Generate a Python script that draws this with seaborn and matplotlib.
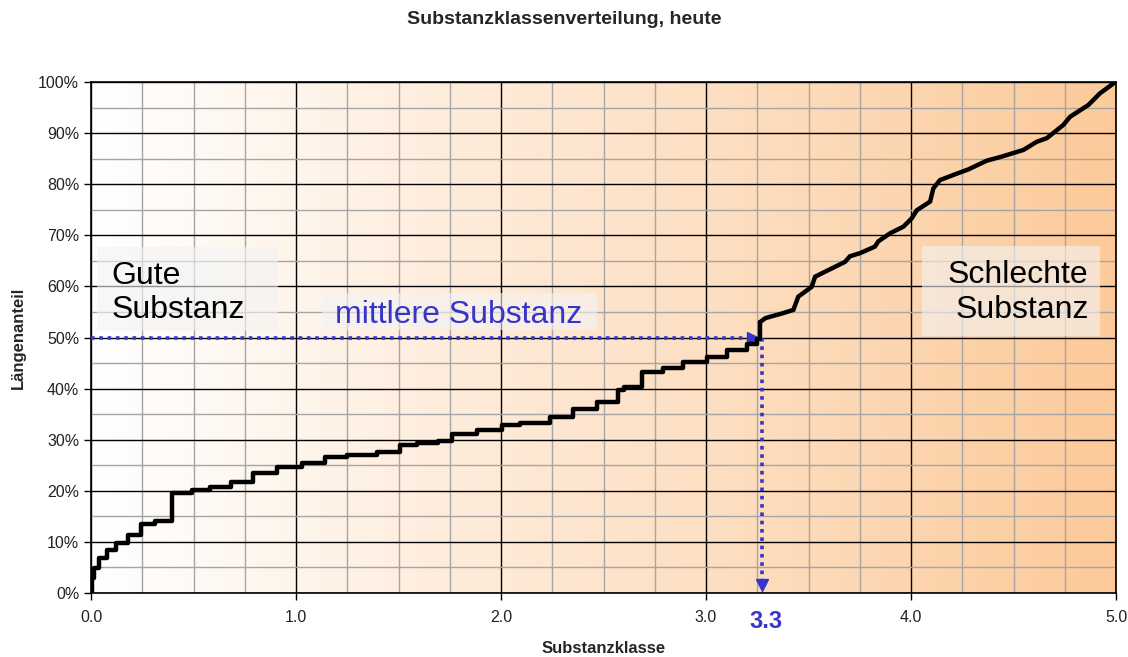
import numpy as np
import matplotlib
matplotlib.use("Agg")
import matplotlib.pyplot as plt
from matplotlib.colors import LinearSegmentedColormap
from matplotlib.patches import Rectangle
from matplotlib.ticker import MultipleLocator, FuncFormatter
import seaborn as sns

# Treppenkurve (untere Haelfte): Substanzklasse und kumulierter Laengenanteil in %
x_stufen = [0.0, 0.005, 0.016, 0.04, 0.077, 0.122, 0.179, 0.242, 0.312, 0.397,
            0.491, 0.58, 0.681, 0.792, 0.906, 1.028, 1.141, 1.247, 1.393, 1.507,
            1.589, 1.694, 1.763, 1.881, 2.003, 2.093, 2.239, 2.353, 2.467, 2.572,
            2.60, 2.686, 2.792, 2.889, 3.003, 3.1, 3.198, 3.247, 3.263]
y_stufen = [0, 3, 4.8, 6.8, 8.5, 9.7, 11.3, 13.6, 14.1, 19.5,
            20.2, 20.8, 21.8, 23.4, 24.7, 25.5, 26.6, 27.0, 27.5, 29.0,
            29.3, 29.7, 31.2, 31.9, 32.9, 33.3, 34.5, 36.1, 37.4, 39.7,
            40.4, 43.3, 44.0, 45.3, 46.1, 47.6, 48.7, 49.8, 53.0]

# obere Haelfte: dichte, feine Stufen -> als Linienzug
x_oben = [3.263, 3.29, 3.37, 3.426, 3.45, 3.515, 3.532, 3.597, 3.678, 3.702,
          3.751, 3.824, 3.84, 3.898, 3.963, 4.003, 4.028, 4.093, 4.109, 4.141,
          4.206, 4.28, 4.369, 4.434, 4.548, 4.613, 4.662, 4.743, 4.776, 4.865,
          4.922, 4.987, 5.0]
y_oben = [53.0, 53.8, 54.7, 55.4, 58.0, 59.9, 61.9, 63.2, 64.8, 65.9,
          66.5, 67.8, 68.8, 70.4, 71.7, 73.3, 74.9, 76.6, 79.2, 80.8,
          81.8, 82.9, 84.6, 85.3, 86.7, 88.3, 89.0, 91.6, 93.2, 95.5,
          97.8, 99.7, 100]

median_anteil = 50
median_klasse = 3.27
median_label = "3.3"

x_ticks = [0.0, 1.0, 2.0, 3.0, 4.0, 5.0]
y_ticks = [0, 10, 20, 30, 40, 50, 60, 70, 80, 90, 100]

blau = "#3535CC"

sns.set_style("white")
plt.rcParams['font.family'] = ['Liberation Sans', 'DejaVu Sans']

fig, ax = plt.subplots(figsize=(11.28, 6.57), dpi=100)
fig.subplots_adjust(left=0.0807, right=0.9894, bottom=0.0974, top=0.8752)

# Hintergrund-Verlauf weiss -> orange
bg = LinearSegmentedColormap.from_list("bg", ["#FFFFFF", "#FCCA9A"])
ax.imshow(np.linspace(0, 1, 256).reshape(1, -1), cmap=bg, aspect="auto",
          extent=[0, 5, 0, 100], zorder=0)

ax.set_xlim(0, 5)
ax.set_ylim(0, 100)
ax.set_xticks(x_ticks)
ax.set_yticks(y_ticks)
ax.xaxis.set_minor_locator(MultipleLocator(0.25))
ax.yaxis.set_minor_locator(MultipleLocator(5))
ax.xaxis.set_major_formatter(FuncFormatter(lambda v, p: f"{v:.1f}"))
ax.yaxis.set_major_formatter(FuncFormatter(lambda v, p: f"{v:.0f}%"))
ax.set_axisbelow(True)
ax.grid(which="minor", color="#A5A5A5", lw=1)
ax.grid(which="major", color="black", lw=1)
ax.tick_params(which="major", direction="out", length=5, width=1, color="black",
               labelsize=11.5, labelcolor="#222222", bottom=True, left=True)
ax.tick_params(axis="x", pad=7)
ax.tick_params(which="minor", length=0)
for s in ax.spines.values():
    s.set_color("black")
    s.set_linewidth(1.2)

# Textfelder
box_kw = dict(facecolor="#F3F3F3", edgecolor="none", alpha=0.6, zorder=1)
ax.add_patch(Rectangle((0.03, 51.3), 0.88, 16.4, **box_kw))
ax.add_patch(Rectangle((1.127, 51.5), 1.34, 7.2, **box_kw))
ax.add_patch(Rectangle((4.054, 50.2), 0.868, 17.8, **box_kw))

ax.text(0.1, 58.7, "Gute\nSubstanz", fontsize=23, color="black",
        ha="left", va="center", linespacing=1.2, zorder=2)
ax.text(1.19, 54.4, "mittlere Substanz", fontsize=23, color=blau,
        ha="left", va="center", zorder=2)
ax.text(4.866, 58.8, "Schlechte\nSubstanz", fontsize=23, color="black",
        ha="right", va="center", linespacing=1.2, multialignment="right", zorder=2)

# Kurve
sns.lineplot(x=x_stufen, y=y_stufen, drawstyle="steps-post", color="black",
             lw=3.2, estimator=None, sort=False, ax=ax, zorder=4)
sns.lineplot(x=x_oben, y=y_oben, color="black", lw=3.2, estimator=None,
             sort=False, ax=ax, zorder=4, solid_joinstyle="miter")

# Median-Pfeile
ax.plot([0, median_klasse - 0.06], [median_anteil, median_anteil], color=blau,
        lw=2.6, linestyle=(0, (1, 1.3)), zorder=3, solid_capstyle="butt")
ax.plot([median_klasse - 0.04], [median_anteil], marker=">", markersize=9,
        color=blau, zorder=3)
ax.plot([median_klasse + 0.005, median_klasse + 0.005], [median_anteil, 2.5],
        color=blau, lw=2.6, linestyle=(0, (1, 1.3)), zorder=3)
ax.plot([median_klasse + 0.005], [1.6], marker="v", markersize=9, color=blau,
        zorder=3, clip_on=False)
ax.text(median_klasse + 0.02, -5.5, median_label, fontsize=17, fontweight="bold",
        color=blau, ha="center", va="center", clip_on=False)

ax.set_xlabel("Substanzklasse", fontsize=12, fontweight="bold", labelpad=12)
ax.set_ylabel("Längenanteil", fontsize=12, fontweight="bold", labelpad=9)
fig.text(0.5, 1 - 20 / 657, "Substanzklassenverteilung, heute", fontsize=14,
         fontweight="bold", ha="center", va="center")

fig.savefig("out.png", dpi=100)
